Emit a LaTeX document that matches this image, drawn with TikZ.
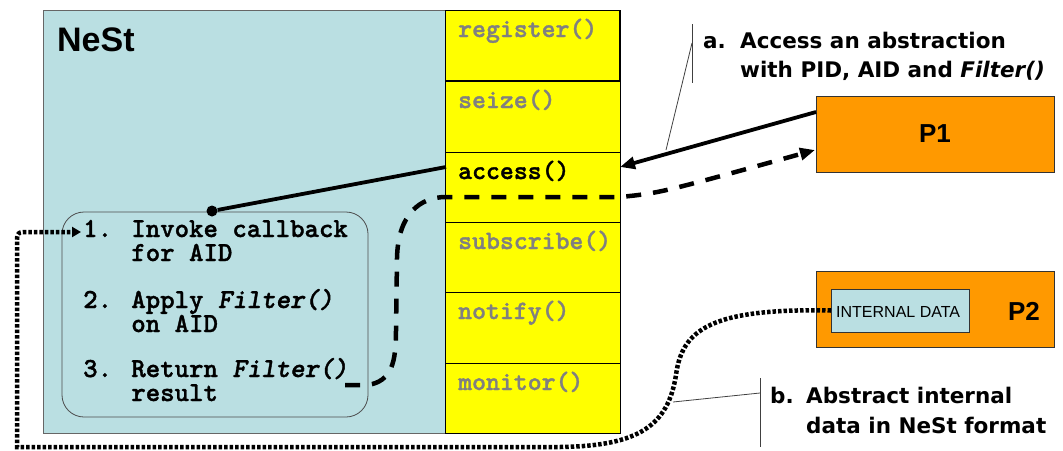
\documentclass[tikz,border=0pt]{standalone}
\usepackage{fontspec}
\setmainfont{Liberation Sans}
\newfontfamily\labelfont{DejaVu Sans}
\newfontfamily\codefont{lmmonolt10-bold.otf}[FakeBold=1.3, ItalicFont=lmmonolt10-boldoblique.otf]
\usetikzlibrary{arrows.meta}

\definecolor{nestblue}{RGB}{186,223,226}
\definecolor{apiyellow}{RGB}{255,255,0}
\definecolor{procorange}{RGB}{255,153,0}
\definecolor{apigray}{RGB}{128,128,128}

\tikzset{
  box/.style={draw, anchor=north west, inner sep=0pt, outer sep=0pt},
  method/.style={box, fill=apiyellow, draw=black, line width=0.8pt, minimum width=175pt},
  mtext/.style={anchor=base west, inner sep=0pt,
    font=\fontsize{26.5}{28}\selectfont\codefont, text=apigray},
  % multi-line step text: the base anchor sits on the last line
  steptext/.style={anchor=base west, inner sep=0pt, align=left,
    font=\fontsize{27.5}{24}\selectfont\codefont},
  proc/.style={box, fill=procorange, draw=black!80, line width=0.8pt,
    minimum width=238pt, minimum height=76pt},
  note/.style={anchor=base west, inner sep=0pt,
    font=\fontsize{21.5}{24}\selectfont\labelfont\bfseries},
  callout/.style={draw=black!75, line width=0.8pt},
  heavy/.style={line width=3.8pt},
  dashline/.style={line width=4.5pt, dash pattern=on 15pt off 12pt},
  dotline/.style={line width=4.5pt, dash pattern=on 3.5pt off 2pt},
  tipbig/.style={-{Triangle[length=15pt,width=12pt]}},
  tipsmall/.style={-{Triangle[length=9pt,width=10pt]}},
}

\begin{document}
\begin{tikzpicture}[x=1pt,y=-1pt]
\useasboundingbox (0,0) rectangle (1063,450);

% NeSt container
\node[box, fill=nestblue, draw=black!60, line width=0.8pt,
      minimum width=402pt, minimum height=423pt] (nest) at (43,10) {};
\node[anchor=base west, inner sep=0pt,
      font=\fontsize{34}{36}\selectfont\bfseries] (nestlbl) at (57,51) {NeSt};

% API column
\node[method, minimum height=71pt] (register)  at (445,10)  {};
\draw[line width=1.6pt] (register.north east) -- (register.south east) -- (register.south west);
\node[method, minimum height=71pt] (seize)     at (445,81)  {};
\node[method, minimum height=70pt] (access)    at (445,152) {};
\node[method, minimum height=70pt] (subscribe) at (445,222) {};
\node[method, minimum height=71pt] (notify)    at (445,292) {};
\node[method, minimum height=70pt] (monitor)   at (445,363) {};

\node[mtext] (tregister)  at (458,37)  {register()};
\node[mtext] (tseize)     at (458,108) {seize()};
\node[mtext, text=black] (taccess) at (458,179) {access()};
\node[mtext] (tsubscribe) at (458,249) {subscribe()};
\node[mtext] (tnotify)    at (458,319) {notify()};
\node[mtext] (tmonitor)   at (458,390) {monitor()};

% callback steps
\node[box, fill=nestblue, draw=black!70, line width=0.8pt, rounded corners=22pt,
      minimum width=306pt, minimum height=205pt] (steps) at (62,212) {};
\node[steptext] (s1) at (83,261) {1. Invoke callback\\\hphantom{1. }for AID};
\node[steptext] (s2) at (83,332) {2. Apply \textit{Filter()}\\\hphantom{2. }on AID};
\node[steptext] (s3) at (83,401) {3. Return \textit{Filter()}\\\hphantom{3. }result};

% processes
\node[proc] (p1) at (816,96) {};
\node[anchor=base, inner sep=0pt, font=\fontsize{26}{28}\selectfont\bfseries]
      (p1lbl) at (935,142) {P1};
\node[proc] (p2) at (816,271) {};
\node[box, fill=nestblue, draw=black!80, line width=0.8pt,
      minimum width=138pt, minimum height=43pt] (idata) at (831,289) {};
\node[anchor=base west, inner sep=0pt, font=\fontsize{16}{18}\selectfont]
      (idatalbl) at (836,317) {INTERNAL DATA};
\node[anchor=base, inner sep=0pt, font=\fontsize{26}{28}\selectfont\bfseries]
      (p2lbl) at (1024,320) {P2};

% notes
\node[note] (na)  at (703,48) {a.};
\node[note] (na1) at (740,48) {Access an abstraction};
\node[note] (na2) at (740,77) {with PID, AID and \textit{Filter()}};
\node[note] (nb)  at (770,403) {b.};
\node[note] (nb1) at (806,403) {Abstract internal};
\node[note] (nb2) at (806,433) {data in NeSt format};

% connector end points
\coordinate (p1out) at (816,112);
\coordinate (accR)  at (620,167);
\coordinate (accL)  at (446,167);
\node[circle, fill=black, inner sep=0pt, minimum size=11pt] (dot) at (212,211) {};
\coordinate (retEnd) at (345,385);
\coordinate (p1in)   at (815,150);
\coordinate (s1in)   at (81,232);

% access call
\draw[heavy, tipbig] (p1out) -- (accR);
\draw[heavy] (accL) -- (dot);

% filtered result back to P1
\draw[dashline, tipbig] (retEnd) -- (368,385)
  .. controls (392,381) and (396,362) .. (396,330)
  -- (397,258)
  .. controls (398,214) and (420,197) .. (446,197)
  -- (620,197)
  .. controls (660,193) .. (p1in);

% internal data abstraction
\draw[dotline, tipsmall] (idata.west)
  .. controls (710,308) and (682,330) .. (676,375)
  .. controls (668,425) and (640,446) .. (560,447)
  -- (17,447) -- (17,244)
  .. controls (17,232) .. (30,232)
  -- (s1in);

% callouts
\coordinate (ca1) at (692,24);
\coordinate (ca2) at (692,83);
\coordinate (ca3) at (692,43);
\coordinate (ca4) at (666,150);
\draw[callout] (ca1) -- (ca2);
\draw[callout] (ca3) -- (ca4);
\coordinate (cb1) at (760,378);
\coordinate (cb2) at (760,447);
\coordinate (cb3) at (760,393);
\coordinate (cb4) at (673,402);
\draw[callout] (cb1) -- (cb2);
\draw[callout] (cb3) -- (cb4);
\end{tikzpicture}
\end{document}
